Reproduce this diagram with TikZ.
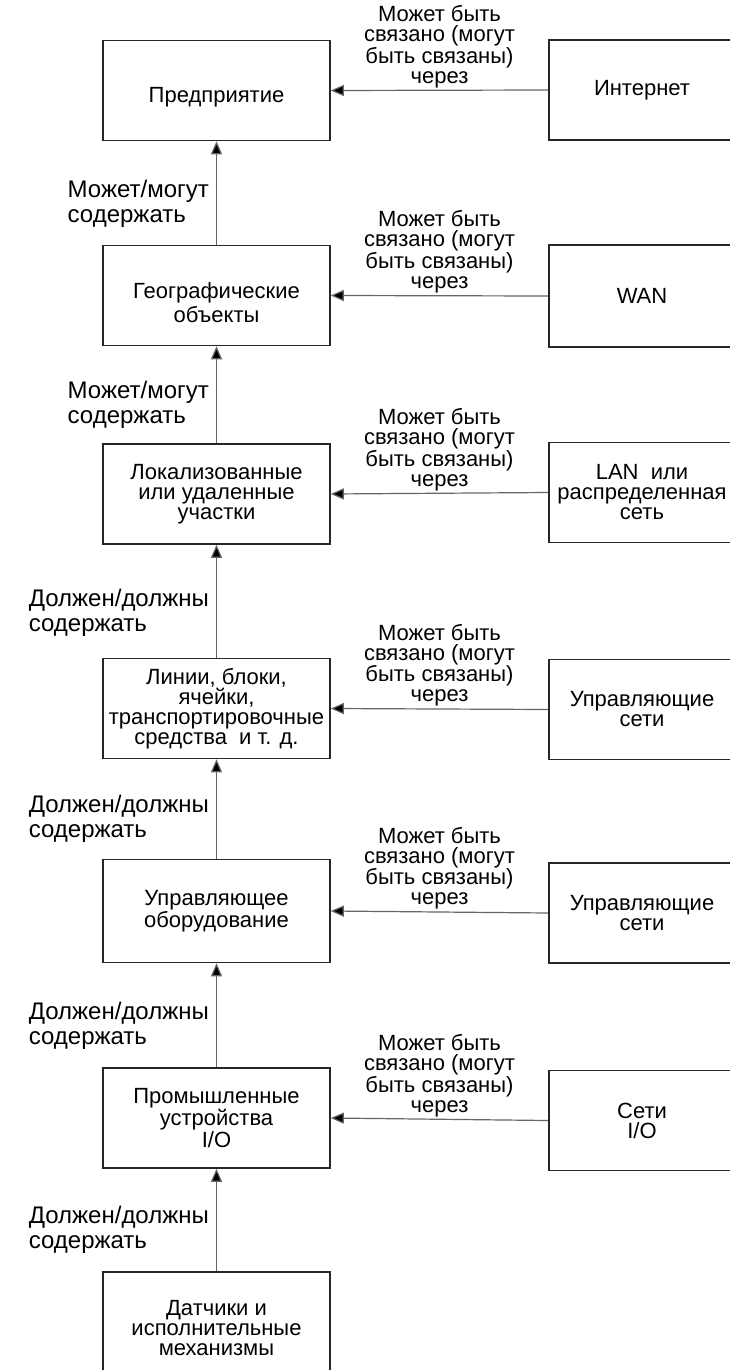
\documentclass[tikz,border=0pt]{standalone}
\usepackage{fontspec}
\setmainfont{Liberation Sans}
\usetikzlibrary{arrows.meta}
\newcommand\diagfont{\fontsize{22}{20}\selectfont}
\newcommand\sidefont{\fontsize{24}{25}\selectfont}
\newcommand\lowered[1]{\raisebox{-7pt}[\height][\depth]{#1}}
\begin{document}
\begin{tikzpicture}[x=1pt,y=-1pt,
  box/.style={draw=black!85, line width=1.6pt, fill=white, align=center,
    inner sep=1pt, font=\diagfont, minimum height=100pt},
  lbox/.style={box, minimum width=227pt},
  rbox/.style={box, minimum width=186pt},
  conn/.style={draw=black!60, line width=1.2pt,
    -{Triangle[length=13pt,width=11pt,fill=black]}},
  lab/.style={font=\diagfont, text=black, inner sep=0pt, yshift=2pt},
  vlab/.style={font=\sidefont, text=black, align=left, inner sep=7pt, left, pos=0.4}]
\fill[white] (0,0) rectangle (730,1370);
\useasboundingbox (0,0) rectangle (730,1370);

% left column
\node[lbox] (lb1) at (216.5,90.5) {\lowered{Предприятие}};
\node[lbox] (lb2) at (216.5,295.5) {\lowered{\shortstack{Географические\\объекты}}};
\node[lbox] (lb3) at (216.5,494) {Локализованные\\или удаленные\\участки};
\node[lbox] (lb4) at (216.5,708.5) {Линии, блоки,\\ячейки,\\транспортировочные\\средства~ и т. д.};
\node[lbox, minimum height=103pt] (lb5) at (216.5,911) {Управляющее\\оборудование};
\node[lbox] (lb6) at (216.5,1118) {Промышленные\\устройства\\I/O};
\node[lbox, minimum height=112pt] (lb7) at (216.5,1328) {Датчики и\\исполнительные\\механизмы};

% right column
\node[rbox] (rb1) at (642,90) {Интернет};
\node[rbox, minimum height=102pt] (rb2) at (642,296) {WAN};
\node[rbox] (rb3) at (642,492.5) {LAN~ или\\распределенная\\сеть};
\node[rbox] (rb4) at (642,709.5) {Управляющие\\сети};
\node[rbox] (rb5) at (642,913) {Управляющие\\сети};
\node[rbox] (rb6) at (642,1120.5) {Сети\\I/O};

% horizontal connectors
\foreach \i in {1,...,6}{
  \draw[conn] (rb\i.west) -- node[lab, above, align=center] {Может быть\\связано (могут\\быть связаны)\\через} (lb\i.east);
}

% vertical connectors
\draw[conn] (lb2.north) -- node[vlab] {Может/могут\\содержать} (lb1.south);
\draw[conn] (lb3.north) -- node[vlab] {Может/могут\\содержать} (lb2.south);
\draw[conn] (lb4.north) -- node[vlab] {Должен/должны\\содержать} (lb3.south);
\draw[conn] (lb5.north) -- node[vlab] {Должен/должны\\содержать} (lb4.south);
\draw[conn] (lb6.north) -- node[vlab] {Должен/должны\\содержать} (lb5.south);
\draw[conn] (lb7.north) -- node[vlab] {Должен/должны\\содержать} (lb6.south);
\end{tikzpicture}
\end{document}
